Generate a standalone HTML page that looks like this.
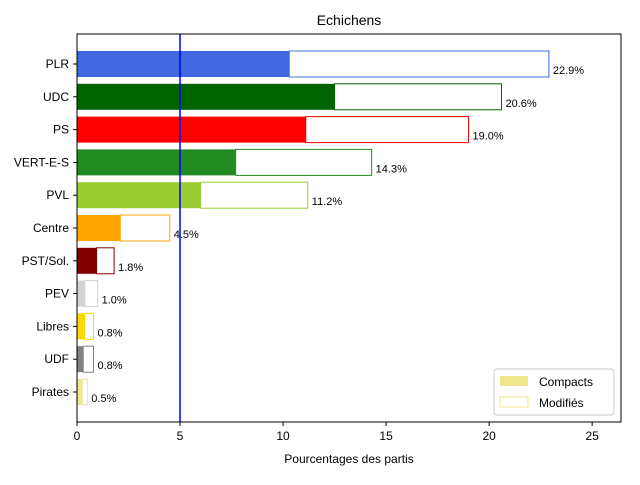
<!DOCTYPE html>
<html><head><meta charset="utf-8"><style>
body{margin:0;background:#fff;font-family:"Liberation Sans",sans-serif}
</style></head><body>
<svg id="c" width="640" height="480" xmlns="http://www.w3.org/2000/svg"></svg>
<script>
const categories=["PLR","UDC","PS","VERT-E-S","PVL","Centre","PST/Sol.","PEV","Libres","UDF","Pirates"];
const compacts=[10.3,12.5,11.1,7.7,6.0,2.1,0.95,0.38,0.37,0.3,0.25];
const totals=[22.9,20.6,19.0,14.3,11.2,4.5,1.8,1.0,0.8,0.8,0.5];
const colors=["#4169e1","#006400","#ff0000","#228b22","#9acd32","#ffa500","#800000","#d3d3d3","#ffd700","#808080","#f0e68c"];
const xticks=[0,5,10,15,20,25];
const threshold=5;
const svg=document.getElementById('c');const NS="http://www.w3.org/2000/svg";
const L=77,R=621,T=34,B=422,XMAX=26.4;
const x=v=>L+v/XMAX*(R-L);
const y0=64,step=32.8,bh=26;
const y=i=>y0+i*step;
function mk(t,a,p){const e=document.createElementNS(NS,t);for(const k in a)e.setAttribute(k,a[k]);(p||svg).appendChild(e);return e;}
categories.forEach((c,i)=>{
 const r1=mk('rect',{x:x(0),y:y(i)-bh/2,width:x(compacts[i])-x(0),height:bh,fill:colors[i]});
 
 
 const r2=mk('rect',{x:x(compacts[i]),y:y(i)-bh/2,width:x(totals[i])-x(compacts[i]),height:bh,fill:'#fff',stroke:colors[i],'stroke-width':1});
 
 
 const t=mk('text',{x:x(totals[i])+4,y:y(i)+10,'font-size':11,fill:'#000'});t.textContent=totals[i].toFixed(1)+'%';
 
 
 mk('line',{x1:L-4,x2:L,y1:y(i),y2:y(i),stroke:'#000'});
 const lb=mk('text',{x:L-8,y:y(i)+4,'font-size':12,'text-anchor':'end'});lb.textContent=c;
 
 
});
const th=mk('line',{x1:x(threshold),x2:x(threshold),y1:T,y2:B,stroke:'#0000ff','stroke-width':1.5});


mk('rect',{x:L,y:T,width:R-L,height:B-T,fill:'none',stroke:'#000','stroke-width':1});
xticks.forEach(v=>{mk('line',{x1:x(v),x2:x(v),y1:B,y2:B+4,stroke:'#000'});
 const t=mk('text',{x:x(v),y:B+18,'font-size':12,'text-anchor':'middle'});t.textContent=v;
 
 });
const xt=mk('text',{x:(L+R)/2,y:463,'font-size':12,'text-anchor':'middle'});xt.textContent='Pourcentages des partis';


const tt=mk('text',{x:(L+R)/2,y:25,'font-size':14,'text-anchor':'middle'});tt.textContent='Echichens';


const lg=mk('g',{});


mk('rect',{x:494,y:369,width:120,height:46,fill:'#fff',stroke:'#ccc',rx:3},lg);
mk('rect',{x:500,y:376,width:28,height:10,fill:'#f0e68c'},lg);
mk('rect',{x:500,y:397,width:28,height:10,fill:'#fff',stroke:'#f0e68c'},lg);
const a=mk('text',{x:539,y:386,'font-size':12},lg);a.textContent='Compacts';
const b=mk('text',{x:539,y:407,'font-size':12},lg);b.textContent='Modifiés';
</script>
</body></html>
